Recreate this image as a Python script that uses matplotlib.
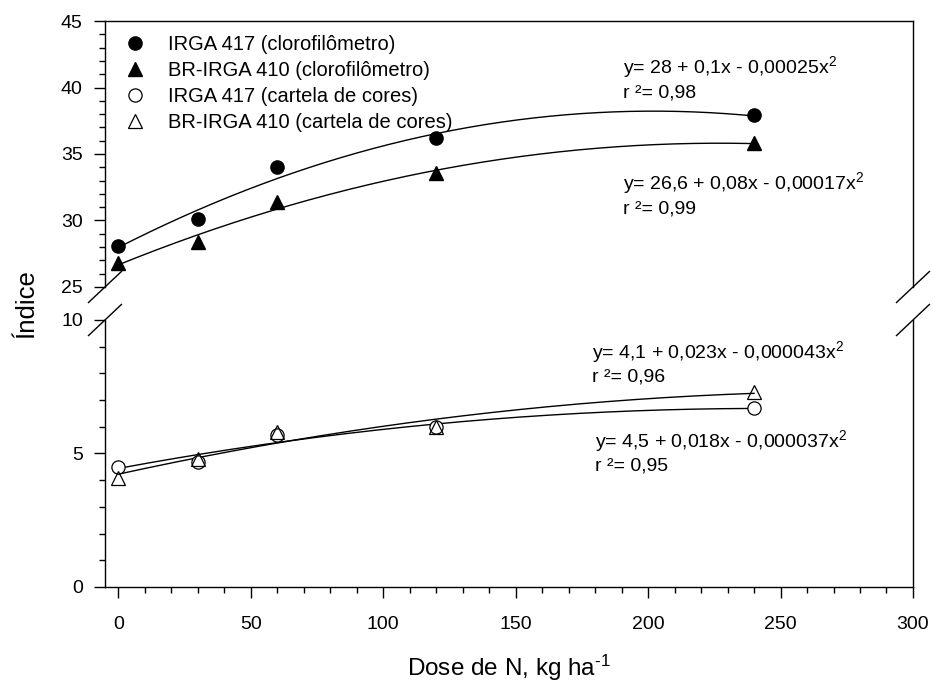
import numpy as np
import matplotlib
matplotlib.use('Agg')
import matplotlib.pyplot as plt
from matplotlib.ticker import MultipleLocator

plt.rcParams['font.family'] = ['Liberation Sans', 'DejaVu Sans']
plt.rcParams['mathtext.fontset'] = 'custom'
plt.rcParams['mathtext.rm'] = 'Liberation Sans'
plt.rcParams['mathtext.it'] = 'Liberation Sans:italic'

# doses de N e índices
dose = [0, 30, 60, 120, 240]
irga417_clor = [28.1, 30.1, 34.0, 36.2, 37.9]
br410_clor = [26.8, 28.4, 31.4, 33.6, 35.8]
irga417_cart = [4.5, 4.7, 5.7, 6.0, 6.7]
br410_cart = [4.1, 4.8, 5.8, 6.0, 7.3]

labels = ['IRGA 417 (clorofilômetro)', 'BR-IRGA 410 (clorofilômetro)',
          'IRGA 417 (cartela de cores)', 'BR-IRGA 410 (cartela de cores)']
eq_text = ['y= 28 + 0,1x - 0,00025x$^2$', 'y= 26,6 + 0,08x - 0,00017x$^2$',
           'y= 4,1 + 0,023x - 0,000043x$^2$', 'y= 4,5 + 0,018x - 0,000037x$^2$']
r2_text = ['r ²= 0,98', 'r ²= 0,99', 'r ²= 0,96', 'r ²= 0,95']

FS = 14


def quad_fit(x, y):
    coef = np.polyfit(x, y, 2)
    xs = np.linspace(min(x), max(x), 200)
    return xs, np.polyval(coef, xs)


fig = plt.figure(figsize=(9.34, 6.82), dpi=100)
ax_top = fig.add_axes([0.1124, 0.5792, 0.8651, 0.3900])
ax_bot = fig.add_axes([0.1124, 0.1393, 0.8651, 0.3915])

# curvas de regressão
for ax, ys in [(ax_top, irga417_clor), (ax_top, br410_clor),
               (ax_bot, irga417_cart), (ax_bot, br410_cart)]:
    xs, yf = quad_fit(dose, ys)
    ax.plot(xs, yf, color='black', lw=1.0, zorder=2)

h1, = ax_top.plot(dose, irga417_clor, 'o', ms=9.5, color='black', ls='none', zorder=3)
h2, = ax_top.plot(dose, br410_clor, '^', ms=10, color='black', ls='none', zorder=3)
h3, = ax_bot.plot(dose, irga417_cart, 'o', ms=9.5, mfc='white', mec='black', mew=0.9, ls='none', zorder=3)
h4, = ax_bot.plot(dose, br410_cart, '^', ms=9.5, mfc='none', mec='black', mew=0.9, ls='none', zorder=4)

for ax in (ax_top, ax_bot):
    ax.set_xlim(-5, 300)
    for s in ax.spines.values():
        s.set_linewidth(1.0)
    ax.yaxis.set_minor_locator(MultipleLocator(1))
    ax.tick_params(axis='y', which='major', direction='out', length=8, width=1, labelsize=FS, pad=8)
    ax.tick_params(axis='y', which='minor', direction='out', length=4, width=1)

ax_top.set_ylim(25, 45)
ax_top.set_yticks([25, 30, 35, 40, 45])
ax_top.spines['bottom'].set_visible(False)
ax_top.tick_params(axis='x', which='both', bottom=False, labelbottom=False)

ax_bot.set_ylim(0, 10)
ax_bot.set_yticks([0, 5, 10])
ax_bot.spines['top'].set_visible(False)
ax_bot.set_xticks([0, 50, 100, 150, 200, 250, 300])
ax_bot.xaxis.set_minor_locator(MultipleLocator(10))
ax_bot.tick_params(axis='x', which='major', direction='out', length=8, width=1, labelsize=FS, pad=13)
ax_bot.tick_params(axis='x', which='minor', direction='out', length=4, width=1)

# marcas de quebra do eixo
dx, dy = 0.0204, 0.0583
for ax, yb in [(ax_top, 0.0), (ax_bot, 1.0)]:
    for xb in (0.0, 1.0):
        ax.plot([xb - dx, xb + dx], [yb - dy, yb + dy], color='black', lw=1.0,
                transform=ax.transAxes, clip_on=False)

# equações
ax_top.text(190.6, 41.08, eq_text[0], fontsize=FS, va='baseline')
ax_top.text(190.6, 39.28, r2_text[0], fontsize=FS, va='baseline')
ax_top.text(190.6, 32.37, eq_text[1], fontsize=FS, va='baseline')
ax_top.text(190.6, 30.56, r2_text[1], fontsize=FS, va='baseline')
ax_bot.text(178.9, 8.58, eq_text[2], fontsize=FS, va='baseline')
ax_bot.text(178.9, 7.68, r2_text[2], fontsize=FS, va='baseline')
ax_bot.text(180.0, 5.24, eq_text[3], fontsize=FS, va='baseline')
ax_bot.text(180.0, 4.38, r2_text[3], fontsize=FS, va='baseline')

ax_top.legend([h1, h2, h3, h4], labels, loc='upper left', bbox_to_anchor=(0.0198, 0.947),
              frameon=False, fontsize=14.5, borderpad=0, borderaxespad=0,
              handlelength=1.4, handletextpad=0.95, labelspacing=0.34)

fig.text(509 / 934, 0.009, 'Dose de N, kg ha$^{\\text{-1}}$', fontsize=17.5, ha='center', va='baseline')
fig.text(38 / 934, 0.555, 'Índice', fontsize=18.5, rotation=90, ha='right', va='center')

fig.savefig('out.png', dpi=100)
